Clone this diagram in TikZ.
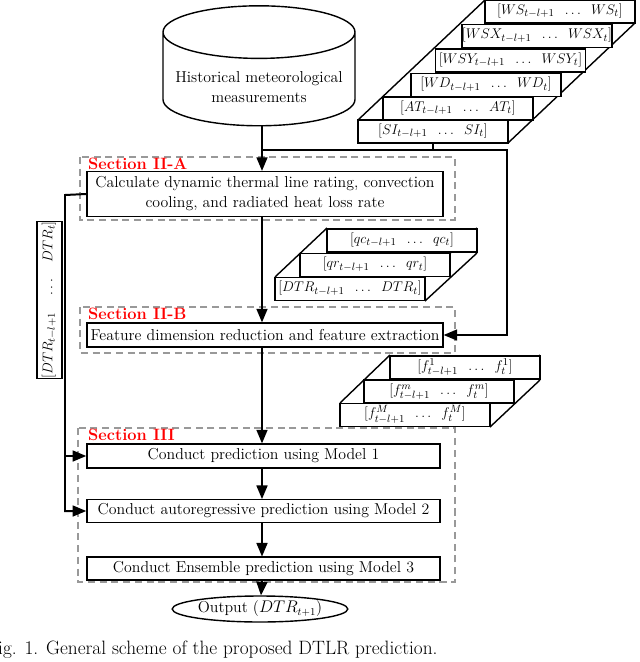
\documentclass[tikz,border=0pt]{standalone}
\usepackage{amsmath}
\usepackage{amssymb}
\usetikzlibrary{arrows, shapes, shapes.geometric, positioning}
\newcommand{\ser}[2]{$[#1_{#2}\;\;\ldots\;\; #1_t]$}

\begin{document}
\begin{tikzpicture}[x=0.03cm, y=-0.03cm,
  every node/.style={font=\fontsize{13.5}{17}\selectfont},
  box/.style={draw, line width=1.2pt, fill=white, align=center, inner sep=1pt},
  slab/.style={draw, line width=1.2pt, fill=white, minimum width=4.5cm, minimum height=0.7cm, inner sep=0pt,
               text height=8pt, text depth=3pt, font=\fontsize{12.5}{14}\selectfont},
  sect/.style={draw=gray!80, dashed, line width=1.2pt, dash pattern=on 6pt off 4pt},
  lab/.style={text=red, font=\fontsize{14}{16}\selectfont\bfseries, anchor=west, inner sep=0pt},
  line/.style={line width=1.7pt},
  arr/.style={line width=1.7pt, -triangle 45}]
  \useasboundingbox (0,0) rectangle (640,662);
  % sections
  \draw[sect] (80,157) rectangle (455,220);
  \draw[sect] (80,307) rectangle (455,353);
  \draw[sect] (78,428) rectangle (455,582);
  \node[lab] (secA) at (88,164) {Section II-A};
  \node[lab] (secB) at (88,314) {Section II-B};
  \node[lab] (secC) at (88,435) {Section III};
  % source
  \node[cylinder, draw, line width=1.2pt, shape border rotate=90, aspect=0.3,
        minimum width=5.76cm, minimum height=2.31cm, align=center] (hist) at (259,83)
        {\\[0pt]Historical meteorological\\measurements};
  % input stack
  \draw[line width=1.2pt] (358,120) -- (485,0) (508,120) -- (635,0) (508,143) -- (635,23);
  \node[slab] (ws) at (560,11.5) {\ser{WS}{t-l+1}};
  \node[slab] (wsx) at (537,36) {\ser{WSX}{t-l+1}};
  \node[slab] (wsy) at (510.5,60.5) {\ser{WSY}{t-l+1}};
  \node[slab] (wd) at (486,85) {\ser{WD}{t-l+1}};
  \node[slab] (at) at (458,108.5) {\ser{AT}{t-l+1}};
  \node[slab] (si) at (433,131.5) {\ser{SI}{t-l+1}};
  % steps
  \node[box, minimum width=10.68cm, minimum height=1.35cm] (calc) at (265,194)
    {Calculate dynamic thermal line rating, convection\\cooling, and radiated heat loss rate};
  \node[box, minimum width=10.68cm, minimum height=0.72cm] (feat) at (265,335)
    {Feature dimension reduction and feature extraction};
  \node[box, minimum width=10.6cm, minimum height=0.72cm] (mod1) at (263.5,456)
    {Conduct prediction using Model 1};
  \node[box, minimum width=10.6cm, minimum height=0.68cm] (mod2) at (263.5,511)
    {Conduct autoregressive prediction using Model 2};
  \node[box, minimum width=10.6cm, minimum height=0.68cm] (mod3) at (263.5,568.5)
    {Conduct Ensemble prediction using Model 3};
  \node[ellipse, draw, line width=1.2pt, minimum width=3.6cm, minimum height=0.78cm, inner sep=0pt] (out) at (260,609)
    {Output ($DTR_{t+1}$)};
  % rating stack
  \draw[line width=1.2pt] (275,277) -- (327,228) (425,277) -- (477,228) (425,301) -- (477,253);
  \node[slab] (qc) at (402,240.5) {\ser{qc}{t-l+1}};
  \node[slab] (qr) at (375,265) {\ser{qr}{t-l+1}};
  \node[slab] (dtr) at (350,289) {\ser{DTR}{t-l+1}};
  % feature stack
  \draw[line width=1.2pt] (340,403) -- (390,355) (490,403) -- (540,355) (490,427) -- (540,380);
  \node[slab] (f1) at (465,367.5) {$[f^1_{t-l+1}\;\;\ldots\;\; f^1_t]$};
  \node[slab] (fm) at (439,391.5) {$[f^m_{t-l+1}\;\;\ldots\;\; f^m_t]$};
  \node[slab] (fM) at (415,415) {$[f^M_{t-l+1}\;\;\ldots\;\; f^M_t]$};
  % feedback
  \node[slab, rotate=90, minimum height=0.75cm] (dtrl) at (49.5,300) {$[DTR_{t-l+1}\quad\ldots\quad DTR_t]$};
  \coordinate (jl) at (65,195);
  \coordinate (j1) at (262,150);
  \coordinate (j2) at (507,150);
  % arrows
  \draw[arr] (hist.south -| j1) -- (j1 |- calc.north);
  \draw[line] (si.south) -- (si.south |- j1);
  \draw[arr] (j1) -- (j2) |- (feat.east);
  \draw[arr] (j1 |- calc.south) -- (j1 |- feat.north);
  \draw[arr] (j1 |- feat.south) -- (j1 |- mod1.north);
  \draw[arr] (j1 |- mod1.south) -- (j1 |- mod2.north);
  \draw[arr] (j1 |- mod2.south) -- (j1 |- mod3.north);
  \draw[arr] (j1 |- mod3.south) -- (out);
  \draw[arr] (calc.west) -- (jl) |- (mod2.west);
  \draw[arr] (jl |- mod1.west) -- (mod1.west);
  % caption
  \node[anchor=west, font=\fontsize{16.5}{18}\selectfont, inner sep=0pt] (cap) at (-2,650)
    {ig. 1. General scheme of the proposed DTLR prediction.};
\end{tikzpicture}
\end{document}
